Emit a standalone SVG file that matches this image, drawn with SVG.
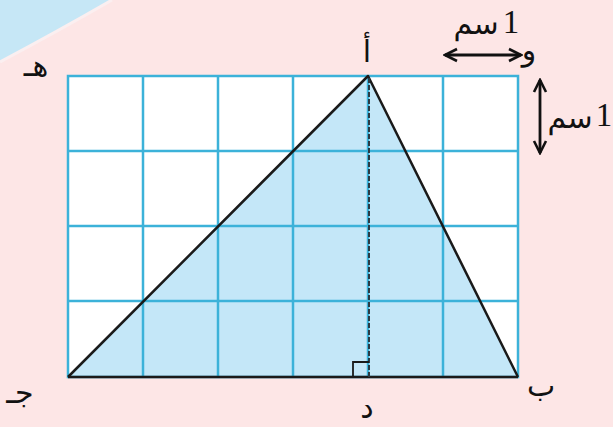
<svg xmlns="http://www.w3.org/2000/svg" width="613" height="427" viewBox="0 0 613 427">
<defs>
<style>
.grid{stroke:#3cb2d9;stroke-width:2.5;fill:none}
.edge{stroke:#1a1a1a;stroke-width:2.5;fill:none;stroke-linejoin:round}
.ar{font-family:"DejaVu Sans",sans-serif;font-size:30px;fill:#111}
.num{font-family:"Liberation Serif",serif;font-size:33px;fill:#111}
.arrow{stroke:#111;stroke-width:2.8;fill:none}
</style>
<marker id="ah" viewBox="0 0 16 16" refX="14" refY="8" markerWidth="16" markerHeight="16" markerUnits="userSpaceOnUse" orient="auto-start-reverse">
<path d="M2,2 L14,8 L2,14" fill="none" stroke="#111" stroke-width="2.6"/>
</marker>
</defs>
<rect width="613" height="427" fill="#fde6e6"/>
<path d="M0,0 L112,0 Q60,30 0,62 Z" fill="#c6e7f6"/>
<path d="M112,0 Q60,30 0,62" fill="none" stroke="#fbeff0" stroke-width="3"/>
<g id="grid">
<rect x="68" y="76" width="450" height="301" fill="#ffffff"/>
<polygon points="68,377 368,76 518,377" fill="#c4e7f8"/>
<rect class="grid" x="68" y="76" width="450" height="301"/>
<path class="grid" d="M143,76V377M218,76V377M293,76V377M368,76V377M443,76V377M68,151H518M68,226H518M68,301H518"/>
</g>
<g id="triangle">
<polyline class="edge" points="68,377 368,76 518,377"/>
<line class="edge" x1="68" y1="377" x2="518" y2="377"/>
<line x1="369" y1="78" x2="369" y2="377" stroke="#2a3a44" stroke-width="2" stroke-dasharray="5,2"/>
<path d="M353,377V362H369" fill="none" stroke="#1a1a1a" stroke-width="1.8"/>
</g>
<g id="connectors">
<line class="arrow" x1="445" y1="55" x2="521" y2="55" marker-start="url(#ah)" marker-end="url(#ah)"/>
<line class="arrow" x1="540" y1="80" x2="540" y2="153" marker-start="url(#ah)" marker-end="url(#ah)"/>
</g>
<g id="labels">
<text class="ar" x="36" y="76" text-anchor="middle">هـ</text>
<text class="ar" x="367" y="62" text-anchor="middle">أ</text>
<text class="ar" x="529" y="60" text-anchor="middle">و</text>
<text class="ar" x="20" y="403" text-anchor="middle">جـ</text>
<text class="ar" x="541" y="396" text-anchor="middle">ب</text>
<text class="ar" x="367" y="418" text-anchor="middle">د</text>
<text class="num" x="511" y="33" text-anchor="middle">1</text>
<text class="ar" x="476" y="34" text-anchor="middle">سم</text>
<text class="num" x="604" y="126" text-anchor="middle">1</text>
<text class="ar" x="570" y="128" text-anchor="middle">سم</text>
</g>
</svg>
